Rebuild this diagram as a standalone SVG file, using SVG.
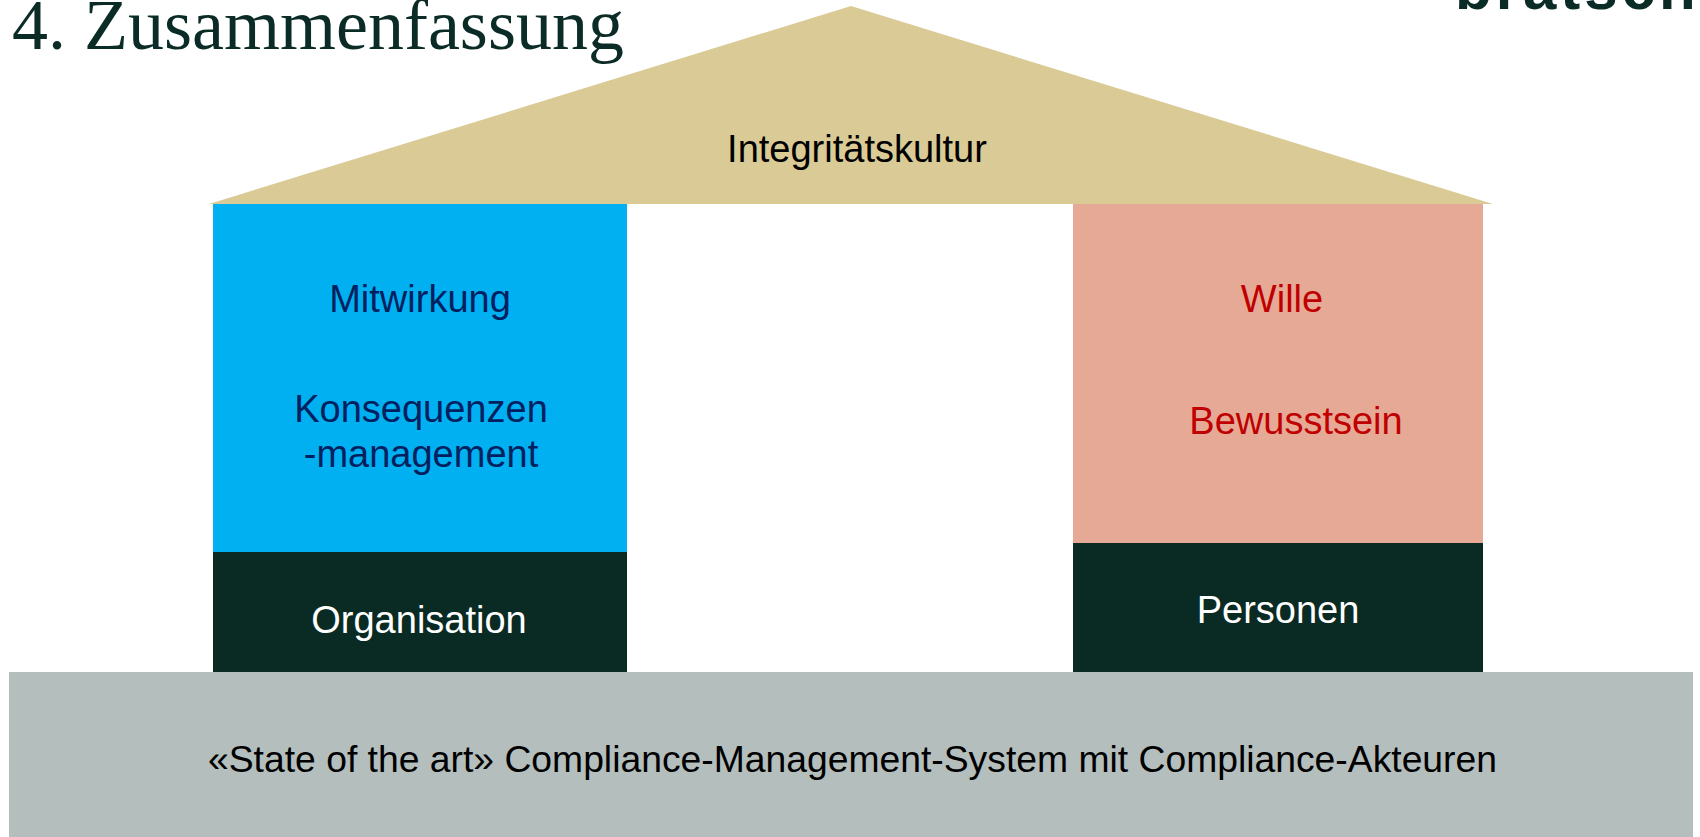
<svg xmlns="http://www.w3.org/2000/svg" width="1700" height="837" viewBox="0 0 1700 837">
  <style>
    .sans { font-family: "Liberation Sans", Arial, sans-serif; }
    .lbl { font-size: 38px; text-anchor: middle; }
    .navy { fill: #002060; }
    .red { fill: #C00000; }
    .white { fill: #FFFFFF; }
    .black { fill: #000000; }
    .base { fill: #0A2A24; }
  </style>
  <rect x="0" y="0" width="1700" height="837" fill="#FFFFFF"/>

  <!-- page heading and clipped logo -->
  <text x="12" y="49" font-family="'Liberation Serif', 'Times New Roman', serif" font-size="72" fill="#0B2B26">4. Zusammenfassung</text>
  <text x="1455" y="9" class="sans" font-size="60" font-weight="bold" fill="#0B2B26" letter-spacing="4">bratschi</text>

  <!-- roof -->
  <g id="roof">
    <polygon points="209,204 851,6 1493,204" fill="#D9CA96"/>
    <text x="857" y="162" class="sans lbl black">Integritätskultur</text>
  </g>

  <!-- left pillar -->
  <g id="pillar-left">
    <rect x="213" y="204" width="414" height="348" fill="#00B0F0"/>
    <text x="420" y="312" class="sans lbl navy">Mitwirkung</text>
    <text x="421" y="422" class="sans lbl navy">Konsequenzen</text>
    <text x="421" y="467" class="sans lbl navy">-management</text>
  </g>
  <g id="base-left">
    <rect x="213" y="552" width="414" height="120" class="base"/>
    <text x="419" y="633" class="sans lbl white">Organisation</text>
  </g>

  <!-- right pillar -->
  <g id="pillar-right">
    <rect x="1073" y="204" width="410" height="339" fill="#E6A996"/>
    <text x="1282" y="312" class="sans lbl red">Wille</text>
    <text x="1296" y="434" class="sans lbl red">Bewusstsein</text>
  </g>
  <g id="base-right">
    <rect x="1073" y="543" width="410" height="129" class="base"/>
    <text x="1278" y="623" class="sans lbl white">Personen</text>
  </g>

  <!-- foundation -->
  <g id="foundation">
    <rect x="9" y="672" width="1684" height="165" fill="#B4BEBC"/>
    <text x="208" y="772" class="sans black" font-size="37" textLength="1289" lengthAdjust="spacingAndGlyphs">«State of the art» Compliance-Management-System mit Compliance-Akteuren</text>
  </g>

  <g id="connectors"></g>
</svg>
